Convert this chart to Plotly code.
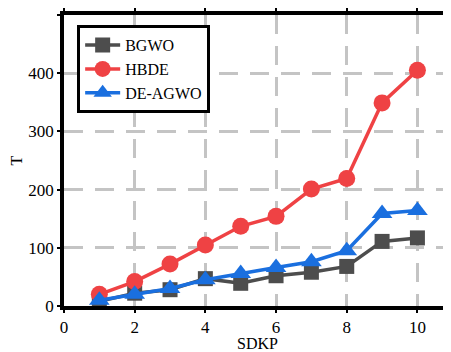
import plotly.graph_objects as go

x_vals = [1, 2, 3, 4, 5, 6, 7, 8, 9, 10]
bgwo = [8, 22, 28, 47, 39, 52, 58, 68, 111, 117]
hbde = [20, 42, 72, 105, 137, 154, 201, 219, 349, 405]
deagwo = [10, 20, 30, 45, 56, 66, 76, 95, 159, 164]

font_family = "Times New Roman, Liberation Serif, DejaVu Serif, serif"

fig = go.Figure()
series = [
    ("BGWO", bgwo, "#4d4d4d", "square", 15),
    ("HBDE", hbde, "#ef4244", "circle", 17),
    ("DE-AGWO", deagwo, "#1a6fdf", "triangle-up", 18),
]
for name, vals, col, sym, sz in series:
    fig.add_trace(go.Scatter(
        x=x_vals, y=vals, name=name, mode="lines+markers",
        line=dict(color=col, width=3.5),
        marker=dict(symbol=sym, size=sz, color=col),
    ))

axis_common = dict(
    showline=True, linecolor="black", linewidth=3.5, mirror="ticks",
    showgrid=True, gridcolor="#c4c4c4", gridwidth=3, griddash="19px,12px",
    ticks="outside", ticklen=3, tickwidth=2, tickcolor="black",
    zeroline=False, automargin=False,
    tickfont=dict(family=font_family, size=17, color="black"),
    title_font=dict(family=font_family, size=16, color="black"),
)

fig.update_layout(
    width=443, height=344,
    margin=dict(l=56, r=0, t=7, b=46),
    plot_bgcolor="white", paper_bgcolor="white",
    font=dict(family=font_family),
    xaxis=dict(range=[0, 10.95], tickvals=[0, 2, 4, 6, 8, 10],
               title=dict(text="SDKP", standoff=2), **axis_common),
    yaxis=dict(range=[0, 500], tickvals=[0, 100, 200, 300, 400, 500],
               title=dict(text="T", standoff=10), **axis_common),
    legend=dict(x=0.034, y=0.965, xanchor="left", yanchor="top",
                bordercolor="black", borderwidth=3, bgcolor="white",
                font=dict(family=font_family, size=16, color="black"),
                tracegroupgap=0, itemwidth=35),
    showlegend=True,
)

fig.write_html("out.html")
